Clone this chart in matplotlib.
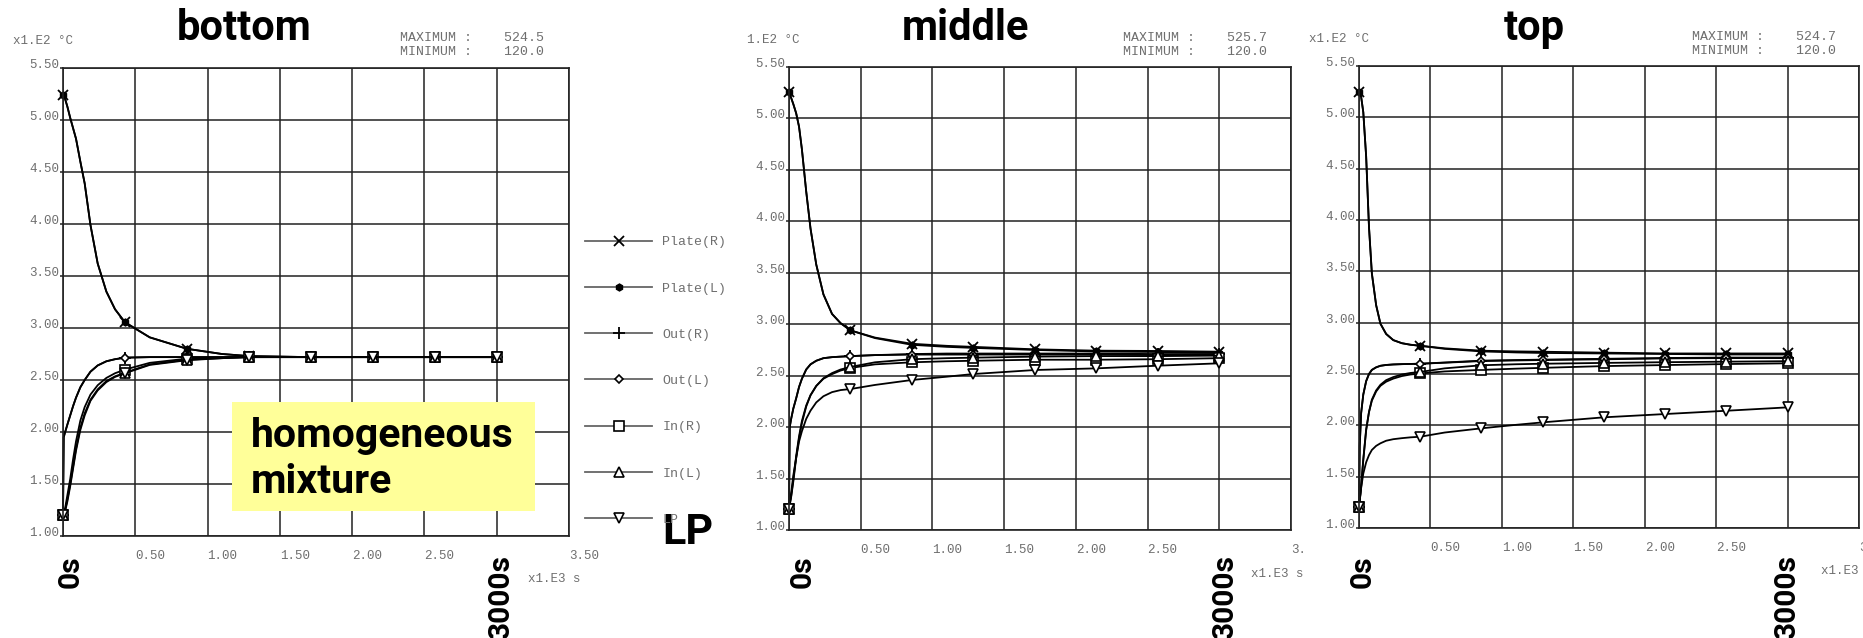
import matplotlib
matplotlib.use('Agg')
import matplotlib.pyplot as plt
from matplotlib.lines import Line2D
from matplotlib.patches import Rectangle

W, H = 1863, 638
MONO = 'Liberation Mono'
BOLD = 'Roboto'
GRAY = '#6e6e6e'

# time axis in x1.E3 s, temperatures in x1.E2 degC
t = [0, 0.005, 0.015, 0.03, 0.05, 0.07, 0.09, 0.12, 0.15, 0.19, 0.24, 0.3, 0.36,
     0.4286, 0.6, 0.8571, 1.1, 1.2857, 1.7143, 2.1429, 2.5714, 3.0]
mark_idx = [0, 13, 15, 17, 18, 19, 20, 21]

names = ['Plate(R)', 'Plate(L)', 'Out(R)', 'Out(L)', 'In(R)', 'In(L)', 'LP']

# bottom
bot_plate_r = [5.245, 5.24, 5.20, 5.13, 5.02, 4.92, 4.82, 4.60, 4.39, 3.99, 3.62, 3.35, 3.18,
               3.055, 2.91, 2.80, 2.75, 2.73, 2.72, 2.72, 2.72, 2.72]
bot_plate_l = [5.245, 5.24, 5.20, 5.13, 5.02, 4.92, 4.82, 4.60, 4.39, 3.99, 3.62, 3.35, 3.18,
               3.055, 2.91, 2.80, 2.75, 2.73, 2.72, 2.72, 2.72, 2.72]
bot_out_r = [1.20, 1.95, 2.00, 2.07, 2.16, 2.25, 2.33, 2.43, 2.50, 2.58, 2.64, 2.68, 2.70,
             2.715, 2.72, 2.72, 2.72, 2.72, 2.72, 2.72, 2.72, 2.72]
bot_out_l = [1.20, 1.95, 2.00, 2.07, 2.16, 2.25, 2.33, 2.43, 2.50, 2.58, 2.64, 2.68, 2.70,
             2.715, 2.72, 2.72, 2.72, 2.72, 2.72, 2.72, 2.72, 2.72]
bot_in_r = [1.20, 1.22, 1.27, 1.39, 1.55, 1.74, 1.91, 2.11, 2.24, 2.36, 2.45, 2.52, 2.565,
            2.60, 2.665, 2.705, 2.715, 2.72, 2.72, 2.72, 2.72, 2.72]
bot_in_l = [1.20, 1.21, 1.25, 1.35, 1.50, 1.67, 1.84, 2.04, 2.18, 2.31, 2.41, 2.49, 2.535,
            2.57, 2.65, 2.695, 2.71, 2.72, 2.72, 2.72, 2.72, 2.72]
bot_lp = [1.20, 1.21, 1.24, 1.33, 1.48, 1.65, 1.82, 2.02, 2.16, 2.30, 2.40, 2.48, 2.53,
          2.565, 2.645, 2.69, 2.71, 2.72, 2.72, 2.72, 2.72, 2.72]

# middle
mid_plate_r = [5.257, 5.24, 5.20, 5.14, 5.05, 4.92, 4.70, 4.29, 3.93, 3.58, 3.29, 3.10, 3.01,
               2.94, 2.87, 2.81, 2.79, 2.78, 2.756, 2.743, 2.74, 2.733]
mid_plate_l = [5.257, 5.24, 5.20, 5.14, 5.05, 4.92, 4.70, 4.29, 3.93, 3.58, 3.29, 3.10, 3.01,
               2.94, 2.865, 2.80, 2.78, 2.77, 2.75, 2.735, 2.73, 2.72]
mid_out_r = [1.20, 2.00, 2.08, 2.18, 2.28, 2.39, 2.47, 2.56, 2.61, 2.645, 2.67, 2.68, 2.685,
             2.69, 2.70, 2.71, 2.715, 2.715, 2.715, 2.715, 2.71, 2.71]
mid_out_l = [1.20, 2.00, 2.08, 2.18, 2.28, 2.39, 2.47, 2.56, 2.61, 2.645, 2.67, 2.68, 2.685,
             2.69, 2.70, 2.705, 2.705, 2.705, 2.705, 2.705, 2.70, 2.70]
mid_in_r = [1.20, 1.25, 1.33, 1.49, 1.72, 1.91, 2.06, 2.21, 2.31, 2.40, 2.47, 2.515, 2.55,
            2.575, 2.61, 2.63, 2.64, 2.645, 2.655, 2.655, 2.66, 2.67]
mid_in_l = [1.20, 1.24, 1.32, 1.47, 1.70, 1.89, 2.04, 2.20, 2.31, 2.40, 2.475, 2.525, 2.56,
            2.585, 2.63, 2.66, 2.67, 2.675, 2.685, 2.69, 2.69, 2.695]
mid_lp = [1.20, 1.26, 1.36, 1.53, 1.70, 1.86, 1.96, 2.08, 2.16, 2.24, 2.30, 2.34, 2.36,
          2.37, 2.41, 2.458, 2.49, 2.516, 2.555, 2.571, 2.597, 2.62]

# top
top_plate_r = [5.247, 5.24, 5.20, 5.05, 4.62, 3.93, 3.48, 3.17, 2.99, 2.89, 2.83, 2.80, 2.785,
               2.775, 2.75, 2.727, 2.72, 2.717, 2.708, 2.70, 2.70, 2.70]
top_plate_l = [5.247, 5.24, 5.20, 5.05, 4.62, 3.93, 3.48, 3.17, 2.99, 2.89, 2.83, 2.80, 2.785,
               2.775, 2.745, 2.72, 2.71, 2.705, 2.70, 2.695, 2.69, 2.69]
top_out_r = [1.20, 1.80, 2.12, 2.30, 2.43, 2.50, 2.54, 2.565, 2.58, 2.588, 2.593, 2.596, 2.598,
             2.60, 2.612, 2.63, 2.636, 2.64, 2.648, 2.656, 2.66, 2.66]
top_out_l = [1.20, 1.80, 2.12, 2.30, 2.43, 2.50, 2.54, 2.565, 2.58, 2.588, 2.593, 2.596, 2.598,
             2.60, 2.61, 2.626, 2.632, 2.636, 2.643, 2.652, 2.655, 2.655]
top_in_r = [1.20, 1.27, 1.41, 1.67, 1.96, 2.13, 2.24, 2.33, 2.385, 2.425, 2.455, 2.48, 2.495,
            2.505, 2.525, 2.54, 2.552, 2.56, 2.577, 2.587, 2.597, 2.604]
top_in_l = [1.20, 1.26, 1.40, 1.66, 1.95, 2.13, 2.25, 2.34, 2.395, 2.44, 2.47, 2.495, 2.51,
            2.52, 2.555, 2.585, 2.595, 2.60, 2.608, 2.615, 2.62, 2.625]
top_lp = [1.20, 1.27, 1.39, 1.53, 1.64, 1.71, 1.76, 1.80, 1.825, 1.85, 1.865, 1.875, 1.883,
          1.889, 1.93, 1.971, 2.005, 2.029, 2.078, 2.11, 2.142, 2.175]

x_ticks = [0, 0.5, 1.0, 1.5, 2.0, 2.5, 3.0, 3.5]
x_labels = ['', '0.50', '1.00', '1.50', '2.00', '2.50', '', '3.50']
y_ticks = [1.0, 1.5, 2.0, 2.5, 3.0, 3.5, 4.0, 4.5, 5.0, 5.5]
y_labels = ['1.00', '1.50', '2.00', '2.50', '3.00', '3.50', '4.00', '4.50', '5.00', '5.50']

panels = [
    dict(title='bottom', ylab='x1.E2 °C', vmax='524.5', vmin='120.0',
         series=[bot_plate_r, bot_plate_l, bot_out_r, bot_out_l, bot_in_r, bot_in_l, bot_lp],
         box=(63, 68, 569, 536), ylab_xy=(13, 41), mm_xy=(400, 38), title_x=244,
         xlab_xy=(528, 579), s0_x=71, s3000_x=501, z=1),
    dict(title='middle', ylab='1.E2 °C', vmax='525.7', vmin='120.0',
         series=[mid_plate_r, mid_plate_l, mid_out_r, mid_out_l, mid_in_r, mid_in_l, mid_lp],
         box=(789, 67, 1291, 530), ylab_xy=(747, 40), mm_xy=(1123, 38), title_x=965,
         xlab_xy=(1251, 574), s0_x=803, s3000_x=1225, z=1),
    dict(title='top', ylab='x1.E2 °C', vmax='524.7', vmin='120.0',
         series=[top_plate_r, top_plate_l, top_out_r, top_out_l, top_in_r, top_in_l, top_lp],
         box=(1359, 66, 1859, 528), ylab_xy=(1309, 39), mm_xy=(1692, 37), title_x=1534,
         xlab_xy=(1821, 571), s0_x=1363, s3000_x=1787, z=6),
]

styles = [
    dict(marker='x', ms=7, mew=1.3, mfc='black'),
    dict(marker='h', ms=5, mew=1.0, mfc='black'),
    dict(marker='+', ms=8, mew=1.3, mfc='black'),
    dict(marker='D', ms=4.5, mew=1.2, mfc='white'),
    dict(marker='s', ms=6.5, mew=1.2, mfc='white'),
    dict(marker='^', ms=6.5, mew=1.2, mfc='white'),
    dict(marker='v', ms=6.5, mew=1.2, mfc='white'),
]


def fx(x):
    return x / W


def fy(y):
    return 1 - y / H


fig = plt.figure(figsize=(W / 100, H / 100), dpi=100)
fig.patch.set_facecolor('white')

for p in panels:
    z = p['z']
    if z > 1:
        # the right picture sits on top of the middle one
        fig.add_artist(Rectangle((fx(1304), 0), 1 - fx(1304), 1, transform=fig.transFigure,
                                 facecolor='white', edgecolor='none', zorder=z - 1))
    l, tp, r, b = p['box']
    ax = fig.add_axes([fx(l), fy(b), fx(r - l), (b - tp) / H])
    ax.set_zorder(z)
    ax.set_xlim(0, 3.5)
    ax.set_ylim(1.0, 5.5)
    ax.set_xticks(x_ticks)
    ax.set_xticklabels(x_labels, fontfamily=MONO, fontsize=9, color=GRAY, ha='left')
    ax.set_yticks(y_ticks)
    ax.set_yticklabels(y_labels, fontfamily=MONO, fontsize=9, color=GRAY, va='baseline')
    ax.tick_params(axis='x', length=0, pad=10)
    ax.tick_params(axis='y', length=2, pad=0.5, color='#222', width=1.1)
    ax.grid(True, color='#222', lw=1.1)
    ax.set_axisbelow(True)
    for sp in ax.spines.values():
        sp.set_color('#222')
        sp.set_linewidth(1.2)

    for vals, st in zip(p['series'], styles):
        ax.plot(t, vals, color='black', lw=1.3, markevery=mark_idx, mec='black',
                clip_on=False, **st)

    tz = z + 1
    fig.text(fx(p['ylab_xy'][0]), fy(p['ylab_xy'][1]), p['ylab'], fontfamily=MONO,
             fontsize=9, color=GRAY, va='center', zorder=tz)
    fig.text(fx(p['mm_xy'][0]), fy(p['mm_xy'][1]), 'MAXIMUM :    ' + p['vmax'],
             fontfamily=MONO, fontsize=9.5, color=GRAY, va='center', zorder=tz)
    fig.text(fx(p['mm_xy'][0]), fy(p['mm_xy'][1] + 14), 'MINIMUM :    ' + p['vmin'],
             fontfamily=MONO, fontsize=9.5, color=GRAY, va='center', zorder=tz)
    fig.text(fx(p['title_x']), fy(40), p['title'], fontfamily=BOLD, fontweight='bold',
             fontsize=30, ha='center', va='baseline', zorder=tz)
    fig.text(fx(p['xlab_xy'][0]), fy(p['xlab_xy'][1]), 'x1.E3 s', fontfamily=MONO,
             fontsize=9, color=GRAY, va='center', zorder=tz)
    fig.text(fx(p['s0_x']), fy(555), '0s', fontfamily=BOLD, fontweight='bold',
             fontsize=21.5, rotation=90, ha='center', va='top', zorder=tz)
    fig.text(fx(p['s3000_x']), fy(555), '3000s', fontfamily=BOLD, fontweight='bold',
             fontsize=21.5, rotation=90, ha='center', va='top', zorder=tz)

# legend of the bottom picture
handles = [Line2D([], [], color='#666', lw=1.3, mec='black', **st) for st in styles]
leg = fig.legend(handles, names, loc='upper left', bbox_to_anchor=(fx(585), fy(236)),
                 frameon=False, borderpad=0, borderaxespad=0, handlelength=5.1,
                 handletextpad=0.75, labelspacing=2.58,
                 prop=dict(family=MONO, size=9.5))
for txt in leg.get_texts():
    txt.set_color(GRAY)

fig.text(fx(662), fy(544), 'LP', fontfamily=BOLD, fontweight='bold', fontsize=31,
         va='baseline', zorder=3)

# yellow note
fig.add_artist(Rectangle((fx(232), fy(511)), fx(535 - 232), (511 - 402) / H,
                         transform=fig.transFigure, facecolor='#ffff99',
                         edgecolor='none', zorder=2))
fig.text(fx(251), fy(447), 'homogeneous', fontfamily=BOLD, fontweight='bold',
         fontsize=29.5, va='baseline', zorder=3)
fig.text(fx(251), fy(493), 'mixture', fontfamily=BOLD, fontweight='bold',
         fontsize=29.5, va='baseline', zorder=3)

fig.savefig('out.png', dpi=100)
